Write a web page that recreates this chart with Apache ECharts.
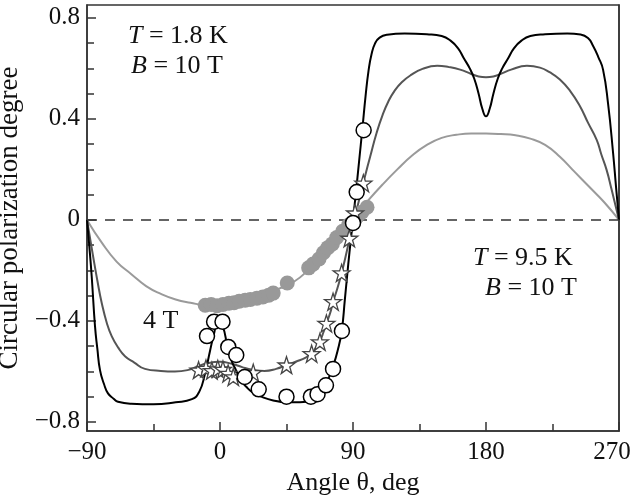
<!DOCTYPE html>
<html>
<head>
<meta charset="utf-8">
<script src="https://cdn.jsdelivr.net/npm/echarts@6/dist/echarts.min.js"></script>
<style>
  html, body { margin: 0; padding: 0; background: #fff; }
  #chart { width: 632px; height: 497px; }
</style>
</head>
<body>
<div id="chart"></div>
<script>
// curve: T = 1.8 K, B = 10 T
const black_line = [
  [-90, 0], [-88.5, -0.1], [-86.8, -0.225], [-84.6, -0.42], [-83, -0.51], [-81.2, -0.595],
  [-78.5, -0.65], [-75.8, -0.687], [-72, -0.708], [-69, -0.72], [-60, -0.728], [-45, -0.73],
  [-30, -0.722], [-19, -0.71], [-14, -0.68], [-10.2, -0.61], [-6.8, -0.52], [-4, -0.45],
  [-1.5, -0.405], [1.7, -0.42], [5, -0.5], [8, -0.56], [10.8, -0.595], [14, -0.635],
  [17.6, -0.66], [22, -0.683], [28, -0.7], [36, -0.715], [45, -0.722], [54, -0.722],
  [62, -0.712], [67, -0.69], [71, -0.655], [74, -0.62], [76.5, -0.58], [79.5, -0.52],
  [82.3, -0.443], [84.5, -0.315], [86.8, -0.175], [88.5, -0.08], [90, 0], [92, 0.11],
  [94, 0.225], [96.5, 0.37], [98.5, 0.49], [100.5, 0.59], [102.5, 0.655], [105, 0.7],
  [108, 0.722], [113, 0.733], [125, 0.738], [140, 0.735], [150, 0.728], [156, 0.71],
  [161, 0.68], [165, 0.64], [169, 0.6], [172, 0.56], [175, 0.5], [177.5, 0.44], [180, 0.41],
  [182.5, 0.44], [185, 0.5], [188, 0.56], [191, 0.6], [195, 0.64], [199, 0.68],
  [204, 0.71], [210, 0.728], [220, 0.735], [235, 0.738], [244, 0.734], [249, 0.72],
  [252.4, 0.69], [256, 0.645], [259.2, 0.595], [262.6, 0.46], [266, 0.265], [268, 0.13], [270, 0]
];
// curve: 4 T
const gray_line = [
  [-90, 0], [-88, -0.07], [-86, -0.14], [-83, -0.24], [-80, -0.33], [-76.5, -0.41],
  [-73.3, -0.46], [-69, -0.505], [-64.3, -0.54], [-58, -0.565], [-50.8, -0.59], [-40, -0.598],
  [-30.5, -0.6], [-22, -0.595], [-15, -0.58], [-8, -0.567], [0, -0.562], [8, -0.57],
  [15, -0.583], [22, -0.593], [30, -0.598], [38, -0.59], [45, -0.575], [52, -0.56],
  [58, -0.545], [62, -0.53], [65, -0.505], [67.6, -0.48], [70, -0.445], [72, -0.41],
  [74.5, -0.37], [76.5, -0.325], [79.5, -0.27], [82.3, -0.21], [85, -0.145], [87.5, -0.08],
  [90, -0.02], [92.5, 0.04], [95, 0.1], [98, 0.17], [101.6, 0.25], [106, 0.345],
  [110, 0.415], [114, 0.47], [118, 0.51], [123, 0.545], [129, 0.573], [137, 0.598],
  [147, 0.61], [155, 0.605], [162.5, 0.595], [170, 0.578], [175, 0.568], [180, 0.565],
  [185, 0.568], [190, 0.578], [197, 0.595], [207.7, 0.61], [216.5, 0.603], [223, 0.585],
  [230, 0.556], [237, 0.51], [243.6, 0.45], [249, 0.385], [254.9, 0.317], [258, 0.26],
  [261.6, 0.198], [265, 0.12], [270, 0]
];
// curve: T = 9.5 K, B = 10 T
const light_line = [
  [-90, 0], [-80, -0.09], [-70, -0.165], [-60, -0.215], [-50, -0.262], [-40, -0.293],
  [-30, -0.315], [-20, -0.328], [-10, -0.337], [0, -0.337], [10, -0.328], [20, -0.315],
  [30, -0.297], [40, -0.272], [50, -0.245], [60, -0.197], [70, -0.135], [80, -0.068],
  [90, 0.005], [100, 0.075], [110, 0.14], [120, 0.2], [130, 0.255], [140, 0.297],
  [150, 0.325], [160, 0.337], [170, 0.342], [180, 0.342], [190, 0.34], [200, 0.335],
  [210, 0.322], [220, 0.297], [230, 0.25], [240, 0.19], [250, 0.13], [260, 0.07], [270, 0]
];

// measured points
const open_circles = [
  [-8.8, -0.46], [-4, -0.403], [1.7, -0.403], [5.6, -0.503], [11, -0.535], [16.7, -0.622],
  [26.2, -0.671], [45, -0.7], [61.5, -0.7], [66, -0.69], [71.7, -0.655], [76.5, -0.59],
  [82.5, -0.44], [90, -0.012], [92.5, 0.11], [97.2, 0.355]
];
const stars = [
  [-14.5, -0.595], [-9.5, -0.588], [-5.5, -0.597], [-1.5, -0.59], [2, -0.592], [5.5, -0.608],
  [9, -0.622], [22.5, -0.605], [45, -0.575], [62, -0.53], [67.6, -0.483], [72, -0.41],
  [76.5, -0.324], [82.3, -0.21], [87.5, -0.073], [91.4, 0.027], [97, 0.145]
];
const gray_circles = [
  [-10, -0.338], [-6, -0.335], [-2, -0.34], [2, -0.335], [6, -0.33], [9.5, -0.328],
  [13, -0.322], [17, -0.318], [20.5, -0.315], [25, -0.31], [29, -0.305], [33, -0.298],
  [36, -0.29], [45.5, -0.25], [60, -0.19], [63, -0.175], [67, -0.155], [70, -0.13],
  [73, -0.11], [76, -0.095], [79, -0.07], [83, -0.045], [87, -0.02], [90, -0.01],
  [93, 0.015], [96, 0.03], [99.5, 0.05]
];

const yLabels = [-0.8, -0.4, 0, 0.4, 0.8];
const yMinor = [-0.8, -0.7, -0.6, -0.5, -0.4, -0.3, -0.2, -0.1, 0, 0.1, 0.2, 0.3, 0.4, 0.5, 0.6, 0.7, 0.8];

const FONT = 'Liberation Serif';
const FS = 25;
const AXIS_COLOR = '#333';
const Y_MIN = -0.836, Y_MAX = 0.851;

function fmt(v) {
  if (v === 270) return '{r|270}';   // last label is pulled in to fit the page
  return v < 0 ? '\u2212' + Math.abs(v) : String(v);
}

const starPath = 'path://M50,2 L61,36 L97,36 L68,57 L79,92 L50,71 L21,92 L32,57 L3,36 L39,36 Z';

const chart = echarts.init(document.getElementById('chart'));

function gridBox(frame) {
  return {
    left: 87, right: 13, top: 5, bottom: 66, containLabel: false, outerBoundsMode: 'none',
    show: frame, borderColor: AXIS_COLOR, borderWidth: 1.5, backgroundColor: 'transparent'
  };
}
function tickStyle() {
  return { color: AXIS_COLOR, width: 1.5 };
}

function note(text, left, top) {
  return {
    type: 'text', left: left, top: top, z: 20,
    style: {
      text: text, fontFamily: FONT, fontSize: 26, fill: '#111',
      rich: { i: { fontStyle: 'italic', fontFamily: FONT, fontSize: 26 } }
    }
  };
}

const option = {
  animation: false,
  backgroundColor: '#fff',
  grid: [gridBox(true), gridBox(false)],
  xAxis: [
    {
      type: 'value', gridIndex: 0, position: 'bottom',
      min: -90, max: 270, interval: 90,
      axisLine: { show: true, onZero: false, lineStyle: tickStyle() },
      axisTick: { inside: true, length: 9, lineStyle: tickStyle() },
      minorTick: { show: true, splitNumber: 2, length: 7, lineStyle: tickStyle() },
      axisLabel: {
        fontFamily: FONT, fontSize: FS, color: '#111', margin: 9, formatter: fmt,
        rich: { r: { fontFamily: FONT, fontSize: FS, color: '#111', padding: [0, 14, 0, 0] } }
      },
      splitLine: { show: false },
      name: 'Angle \u03b8, deg', nameLocation: 'middle', nameGap: 36,
      nameTextStyle: { fontFamily: FONT, fontSize: 26, color: '#111' }
    },
    {
      type: 'value', gridIndex: 1, min: -90, max: 270, show: false
    }
  ],
  yAxis: [
    {
      type: 'value', gridIndex: 0, position: 'left',
      min: Y_MIN, max: Y_MAX,
      axisLine: { show: true, onZero: false, lineStyle: tickStyle() },
      axisTick: { inside: true, length: 9, customValues: yLabels, lineStyle: tickStyle() },
      axisLabel: { customValues: yLabels, fontFamily: FONT, fontSize: FS, color: '#111', margin: 7, formatter: fmt },
      splitLine: { show: false },
      name: 'Circular polarization degree', nameLocation: 'middle', nameGap: 53,
      nameTextStyle: { fontFamily: FONT, fontSize: 27, color: '#111' }
    },
    {
      type: 'value', gridIndex: 1, position: 'left',
      min: Y_MIN, max: Y_MAX,
      axisLine: { show: false, onZero: false },
      axisTick: { inside: true, length: 7, customValues: yMinor, lineStyle: tickStyle() },
      axisLabel: { show: false }, splitLine: { show: false }
    },
    {
      type: 'value', gridIndex: 1, position: 'right',
      min: Y_MIN, max: Y_MAX,
      axisLine: { show: true, onZero: false, lineStyle: tickStyle() },
      axisTick: { show: false }, axisLabel: { show: false }, splitLine: { show: false }
    }
  ],
  series: [
    {
      type: 'line', data: light_line, xAxisIndex: 0, yAxisIndex: 0,
      showSymbol: false, smooth: 0.5,
      lineStyle: { color: '#9a9a9a', width: 2 }, z: 2,
      markLine: {
        silent: true, symbol: 'none', label: { show: false },
        lineStyle: { color: '#333', width: 1.5, type: [10, 8] },
        data: [{ yAxis: 0 }]
      }
    },
    {
      type: 'line', data: gray_line, xAxisIndex: 0, yAxisIndex: 0,
      showSymbol: false, smooth: 0.5,
      lineStyle: { color: '#555', width: 2 }, z: 3
    },
    {
      type: 'line', data: black_line, xAxisIndex: 0, yAxisIndex: 0,
      showSymbol: false, smooth: 0.5,
      lineStyle: { color: '#000', width: 2 }, z: 4
    },
    {
      type: 'scatter', data: gray_circles, xAxisIndex: 0, yAxisIndex: 0,
      symbol: 'circle', symbolSize: 15,
      itemStyle: { color: '#999', opacity: 1 }, z: 5
    },
    {
      type: 'scatter', data: stars, xAxisIndex: 0, yAxisIndex: 0,
      symbol: starPath, symbolSize: 17,
      itemStyle: { color: '#fff', borderColor: '#444', borderWidth: 1.3, opacity: 1 }, z: 6
    },
    {
      type: 'scatter', data: open_circles, xAxisIndex: 0, yAxisIndex: 0,
      symbol: 'circle', symbolSize: 15,
      itemStyle: { color: '#fff', borderColor: '#000', borderWidth: 1.5, opacity: 1 }, z: 7
    }
  ],
  graphic: [
    note('{i|T} = 1.8 K', 128, 23),
    note('{i|B} = 10 T', 131, 53),
    note('{i|T} = 9.5 K', 473, 245),
    note('{i|B} = 10 T', 485, 275),
    note('4 T', 143, 308)
  ]
};

chart.setOption(option);
</script>
</body>
</html>
